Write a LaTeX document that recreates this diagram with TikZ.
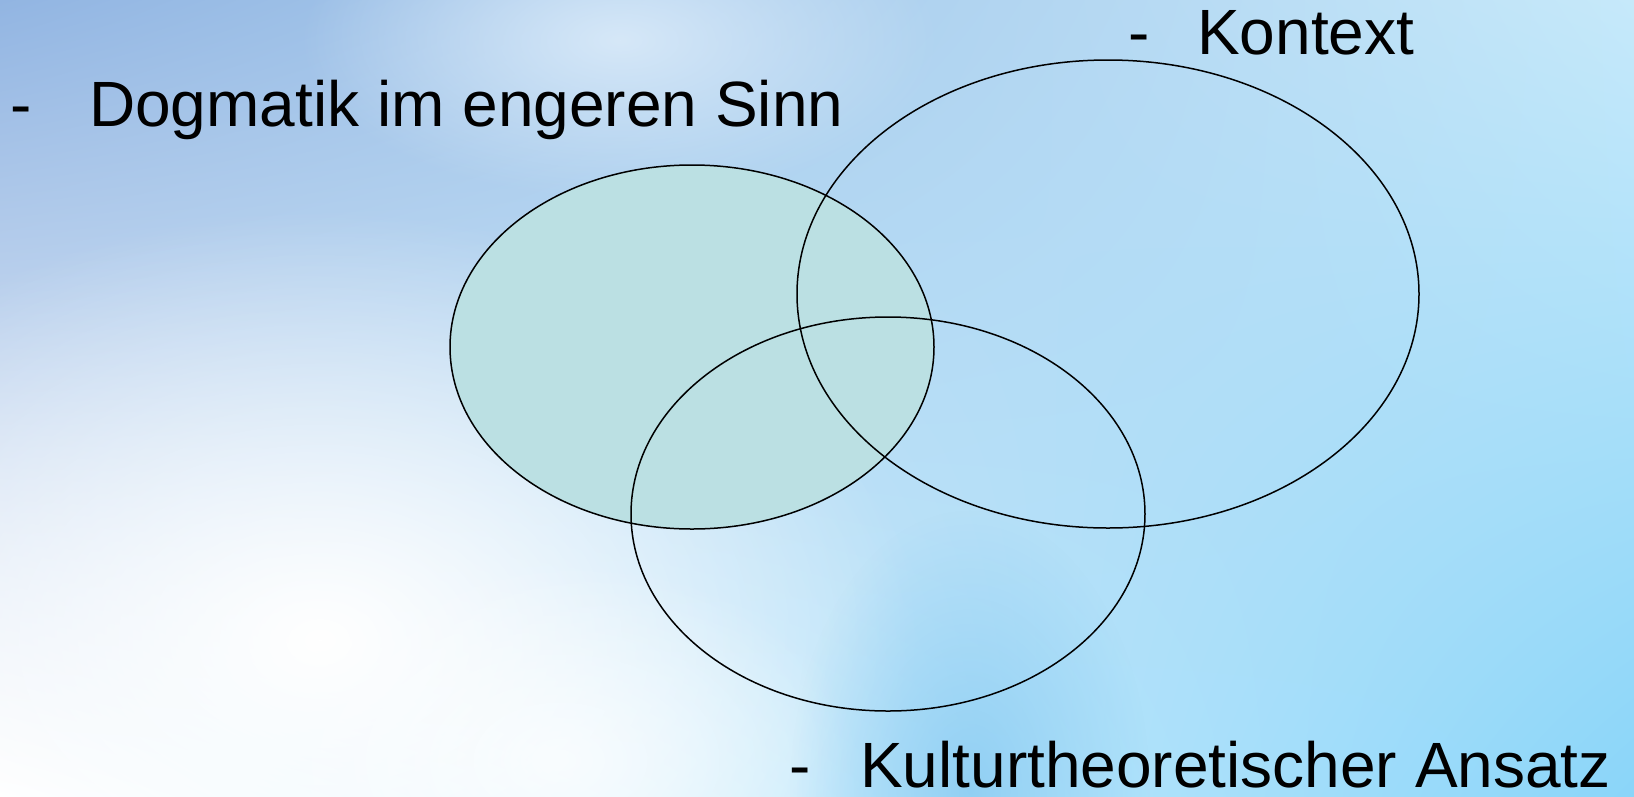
\documentclass[tikz,border=0pt]{standalone}
\usepackage{fontspec}
\setmainfont{Liberation Sans}
\usepackage{tikz}
\usetikzlibrary{shapes.geometric, shadings, fadings}
\definecolor{skytl}{RGB}{146,181,226}
\definecolor{skytr}{RGB}{198,233,250}
\definecolor{skybr}{RGB}{138,213,249}
\definecolor{skymid}{RGB}{214,232,248}
\definecolor{skyband}{RGB}{128,198,240}
\definecolor{dogmafill}{RGB}{187,224,227}
\tikzfading[name=glowfade, inner color=transparent!0, outer color=transparent!100]

\begin{document}
\begin{tikzpicture}[x=1pt, y=-1pt,
    ring/.style={draw=black, line width=1.5pt, ellipse, inner sep=0pt},
    lbl/.style={anchor=base west, inner sep=0pt, font=\fontsize{64}{70}\selectfont}]
  \useasboundingbox (0,0) rectangle (1634,796);

  % background
  \begin{scope}
    \clip (0,0) rectangle (1634,796);
    \shade[upper left=skytl, upper right=skytr, lower left=white, lower right=skybr]
      (0,0) rectangle (1634,796);
    \fill[white, path fading=glowfade] (320,640) ellipse [x radius=600pt, y radius=430pt];
    \fill[white, path fading=glowfade, opacity=0.7] (560,760) ellipse [x radius=300pt, y radius=200pt];
    \fill[skymid, path fading=glowfade] (620,40) ellipse [x radius=320pt, y radius=160pt];
    \fill[skyband, path fading=glowfade, opacity=0.7] (970,790) ellipse [x radius=180pt, y radius=280pt];
  \end{scope}

  % circles
  \node[ring, fill=dogmafill, minimum width=484pt, minimum height=364pt] (dogma) at (692,347) {};
  \node[ring, minimum width=622pt, minimum height=468pt] (kontext) at (1108,294) {};
  \node[ring, minimum width=514pt, minimum height=394pt] (kultur) at (888,514) {};

  % labels
  \node[lbl] (dogmaDash) at (10,126) {-};
  \node[lbl] (dogmaText) at (89,126) {Dogmatik im engeren Sinn};
  \node[lbl] (kontextDash) at (1128,54) {-};
  \node[lbl] (kontextText) at (1197,54) {Kontext};
  \node[lbl] (kulturDash) at (789,787) {-};
  \node[lbl] (kulturText) at (860,787) {Kulturtheoretischer Ansatz};
\end{tikzpicture}
\end{document}
